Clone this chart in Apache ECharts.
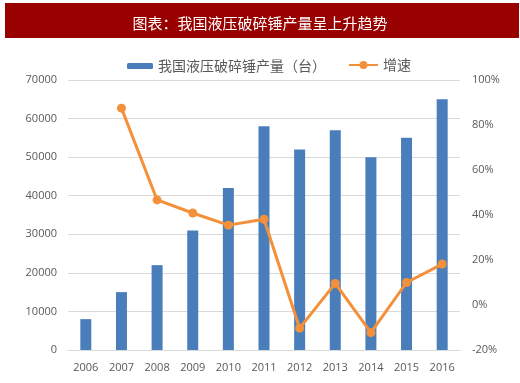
<!DOCTYPE html>
<html><head><meta charset="utf-8">
<script src="https://cdn.jsdelivr.net/npm/echarts@6/dist/echarts.min.js"></script>
<style>html,body{margin:0;padding:0;background:#fff}#c{width:520px;height:383px}</style>
</head><body><div id="c"></div>
<script>
var titleText = '图表：我国液压破碎锤产量呈上升趋势';
var categories = ['2006','2007','2008','2009','2010','2011','2012','2013','2014','2015','2016'];
var outputName = '我国液压破碎锤产量（台）';
var growthName = '增速';
var outputValues = [8000, 15000, 22000, 31000, 42000, 58000, 52000, 57000, 50000, 55000, 65000];
var growthValues = [null, 87.5, 46.7, 40.9, 35.5, 38.1, -10.3, 9.6, -12.3, 10.0, 18.2];
var leftTicks = {min: 0, max: 70000, interval: 10000};
var rightTicks = {min: -20, max: 100, interval: 20};

var chart = echarts.init(document.getElementById('c'), null, {renderer: 'canvas'});
var labelColor = '#595959';
var font = '"Noto Sans CJK SC", "Noto Sans", sans-serif';
chart.setOption({
  backgroundColor: '#ffffff',
  animation: false,
  graphic: [{
    type: 'rect', left: 5, top: 3, z: 0,
    shape: {width: 514, height: 35},
    style: {fill: '#990000'}
  }],
  title: {
    text: titleText, left: 'center', top: 11,
    textStyle: {color: '#ffffff', fontSize: 15, fontWeight: 'normal', fontFamily: font}
  },
  legend: [{
    data: [outputName], left: 122, top: 54,
    itemWidth: 26, itemHeight: 6, itemGap: 5,
    textStyle: {color: labelColor, fontSize: 14, fontFamily: font}
  }, {
    data: [growthName], left: 343, top: 53,
    itemWidth: 29, itemHeight: 10,
    textStyle: {color: labelColor, fontSize: 14, fontFamily: font}
  }],
  grid: {left: 68, right: 60, top: 80, bottom: 33},
  xAxis: {
    type: 'category', data: categories,
    axisLine: {lineStyle: {color: '#d9d9d9'}},
    axisTick: {show: false},
    axisLabel: {color: labelColor, fontSize: 11, margin: 12, fontFamily: 'Open Sans, sans-serif'}
  },
  yAxis: [{
    type: 'value', min: leftTicks.min, max: leftTicks.max, interval: leftTicks.interval,
    axisLine: {show: false}, axisTick: {show: false},
    splitLine: {lineStyle: {color: '#d9d9d9'}},
    axisLabel: {color: labelColor, fontSize: 11, margin: 11, fontFamily: 'Open Sans, sans-serif',
      formatter: function (v) { return String(v); }}
  }, {
    type: 'value', min: rightTicks.min, max: rightTicks.max, interval: rightTicks.interval,
    axisLine: {show: false}, axisTick: {show: false},
    splitLine: {show: false},
    axisLabel: {color: labelColor, fontSize: 11, margin: 12, fontFamily: 'Open Sans, sans-serif', formatter: '{value}%'}
  }],
  series: [{
    name: outputName, type: 'bar', data: outputValues, barWidth: 11,
    itemStyle: {color: '#4A7EBB'}
  }, {
    name: growthName, type: 'line', yAxisIndex: 1, data: growthValues,
    symbol: 'circle', symbolSize: 9, connectNulls: false,
    lineStyle: {color: '#F39039', width: 3},
    itemStyle: {color: '#F39039'}
  }]
});
</script></body></html>
